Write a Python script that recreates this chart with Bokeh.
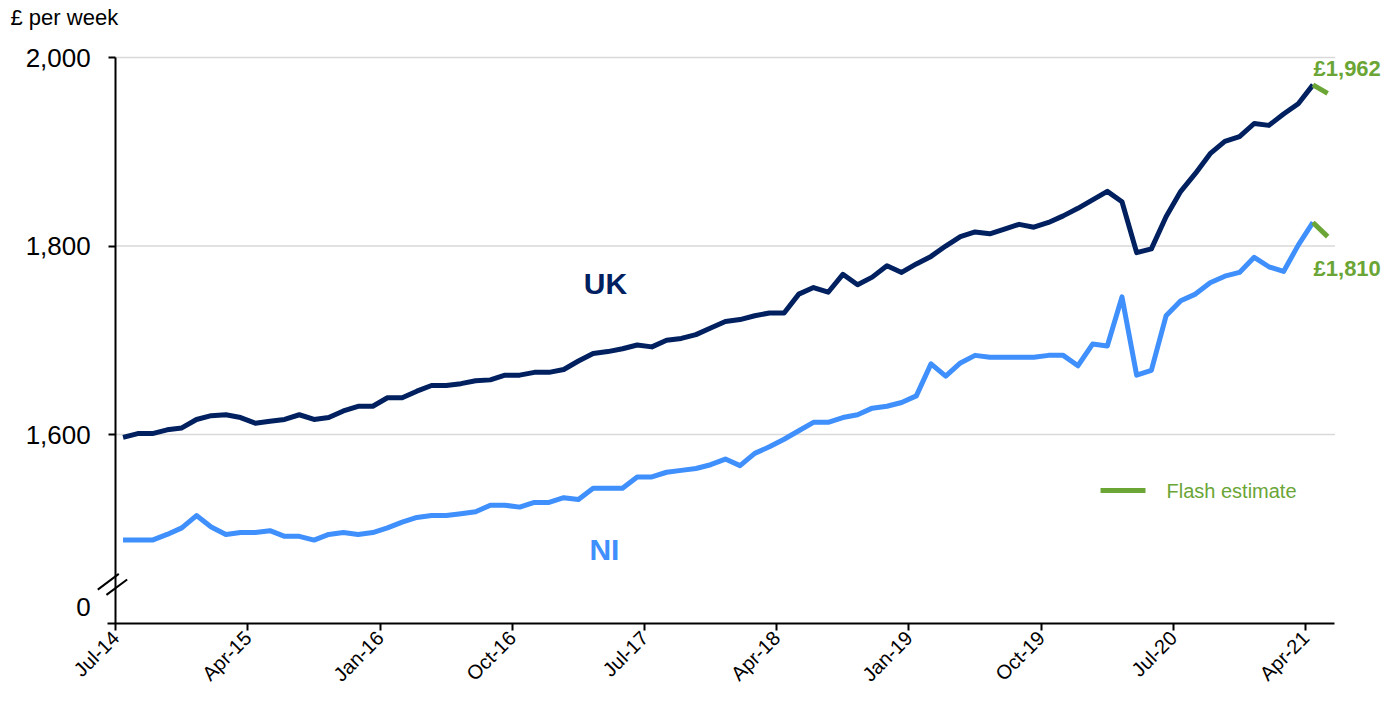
from bokeh.plotting import figure
from bokeh.models import FixedTicker, Label, Arrow, LinearAxis
from bokeh.embed import file_html
from bokeh.resources import INLINE
import math

# ---- data ----
tick_labels = ["Jul-14", "Apr-15", "Jan-16", "Oct-16", "Jul-17",
               "Apr-18", "Jan-19", "Oct-19", "Jul-20", "Apr-21"]
uk = [1597, 1601, 1601, 1605, 1607, 1616, 1620, 1621, 1618, 1612,
      1614, 1616, 1621, 1616, 1618, 1625, 1630, 1630, 1639, 1639,
      1646, 1652, 1652, 1654, 1657, 1658, 1663, 1663, 1666, 1666,
      1669, 1678, 1686, 1688, 1691, 1695, 1693, 1700, 1702, 1706,
      1713, 1720, 1722, 1726, 1729, 1729, 1749, 1756, 1751, 1770,
      1759, 1767, 1779, 1772, 1781, 1789, 1800, 1810, 1815, 1813,
      1818, 1823, 1820, 1825, 1832, 1840, 1849, 1858, 1847, 1793,
      1797, 1831, 1858, 1877, 1898, 1911, 1916, 1930, 1928, 1940,
      1951, 1971]
ni = [1488, 1488, 1488, 1494, 1501, 1514, 1502, 1494, 1496, 1496,
      1498, 1492, 1492, 1488, 1494, 1496, 1494, 1496, 1501, 1507,
      1512, 1514, 1514, 1516, 1518, 1525, 1525, 1523, 1528, 1528,
      1533, 1531, 1543, 1543, 1543, 1555, 1555, 1560, 1562, 1564,
      1568, 1574, 1567, 1580, 1587, 1595, 1604, 1613, 1613, 1618,
      1621, 1628, 1630, 1634, 1641, 1675, 1662, 1676, 1684, 1682,
      1682, 1682, 1682, 1684, 1684, 1673, 1696, 1694, 1746, 1663,
      1668, 1726, 1742, 1749, 1761, 1768, 1772, 1788, 1778, 1773,
      1801, 1825]
uk_flash = [1971, 1962]   # Apr-21 -> May-21 flash estimate
ni_flash = [1825, 1810]
y_ticks = [1600, 1800, 2000]
zero_pos = 1416.8          # where the broken axis shows "0"
y_floor = 1399.5           # bottom of the (broken) value axis

FONT = "Liberation Sans"
NAVY = "#002060"
BLUE = "#3f8ffc"
GREEN = "#6aa536"

n = len(uk)
x = [i + 0.5 for i in range(n)]
x_flash = [n - 0.5, n + 0.5]
n_months = n + 1  # Jul-14 .. May-21

p = figure(width=1384, height=694, x_range=(-7.842, 86.37), y_range=(1324.2, 2060.5),
           output_backend="svg", toolbar_location=None,
           min_border_left=0, min_border_right=0, min_border_top=0,
           min_border_bottom=0)
p.outline_line_color = None
p.background_fill_color = "white"
p.border_fill_color = "white"

# grid lines (drawn only across the data area)
p.xgrid.visible = False
p.ygrid.visible = False
p.segment(x0=[0] * len(y_ticks), y0=y_ticks, x1=[n_months] * len(y_ticks), y1=y_ticks,
          line_color="#d9d9d9", line_width=1.5)

# y axis line + tick marks, drawn at x = 0 (start of Jul-14)
yline = p.yaxis[0]
yline.fixed_location = 0
yline.bounds = (y_floor, 2000)
yline.ticker = FixedTicker(ticks=y_ticks)
yline.major_label_text_font_size = "0px"
yline.major_label_overrides = {t: "" for t in y_ticks}
yline.major_label_standoff = 0
yline.major_tick_in = 0
yline.major_tick_out = 7
yline.minor_tick_line_color = None
yline.axis_line_width = 2
yline.major_tick_line_width = 2

# y tick labels (incl. the broken-axis "0")
ylab = LinearAxis(ticker=FixedTicker(ticks=[zero_pos] + y_ticks), fixed_location=0)
ov = {t: f"{t:,}" for t in y_ticks}
ov[zero_pos] = "0"
ylab.major_label_overrides = ov
ylab.major_label_text_font = FONT
ylab.major_label_text_font_size = "26px"
ylab.major_label_text_color = "black"
ylab.major_label_standoff = 25
ylab.major_tick_in = 0
ylab.major_tick_out = 0
ylab.major_tick_line_color = None
ylab.minor_tick_line_color = None
ylab.axis_line_color = None
p.left = [ylab, yline]

# x axis
xt = [9 * k for k in range(len(tick_labels))]
xa = p.xaxis[0]
xa.fixed_location = y_floor
xa.ticker = FixedTicker(ticks=xt)
xa.bounds = (-0.55, n_months)
xa.major_label_overrides = {t: lab for t, lab in zip(xt, tick_labels)}
xa.major_label_orientation = math.pi / 4
xa.major_label_text_font = FONT
xa.major_label_text_font_size = "20px"
xa.major_label_text_color = "black"
xa.major_label_standoff = 4
xa.major_tick_in = 0
xa.major_tick_out = 7
xa.minor_tick_line_color = None
xa.axis_line_width = 2
xa.major_tick_line_width = 2

# unit label
p.add_layout(Label(x=-7.16, y=2042.4, text="£ per week", text_font=FONT,
                   text_font_size="22px", text_color="black", text_baseline="middle"))

# series
p.line(x, ni, line_color=BLUE, line_width=5, line_join="round")
p.line(x, uk, line_color=NAVY, line_width=5, line_join="round")
p.line(x_flash, ni_flash, line_color=GREEN, line_width=5, line_join="round")
p.line(x_flash, uk_flash, line_color=GREEN, line_width=5, line_join="round")

# legend for flash estimate
p.line([67.04, 70.1], [1540.6, 1540.6], line_color=GREEN, line_width=5)
p.add_layout(Label(x=71.53, y=1540.6, text="Flash estimate", text_font=FONT,
                   text_font_size="20px", text_color=GREEN,
                   text_baseline="middle"))

# series labels
p.add_layout(Label(x=33.34, y=1760, text="UK", text_font=FONT, text_font_size="30px",
                   text_font_style="bold", text_color=NAVY, text_align="center",
                   text_baseline="middle"))
p.add_layout(Label(x=33.27, y=1478, text="NI", text_font=FONT, text_font_size="30px",
                   text_font_style="bold", text_color=BLUE, text_align="center",
                   text_baseline="middle"))
p.add_layout(Label(x=x_flash[1] - 0.96, y=1988, text=f"£{uk_flash[1]:,}", text_font=FONT,
                   text_font_size="22px", text_font_style="bold", text_color=GREEN,
                   text_baseline="middle"))
p.add_layout(Label(x=x_flash[1] - 0.96, y=1776, text=f"£{ni_flash[1]:,}", text_font=FONT,
                   text_font_size="22px", text_font_style="bold", text_color=GREEN,
                   text_baseline="middle"))

# broken-axis marks
for (x0, y0, x1, y1) in [(-1.22, 1435.5, 0.21, 1452.2), (-0.63, 1429.9, 0.78, 1446.2)]:
    p.add_layout(Arrow(end=None, x_start=x0, y_start=y0, x_end=x1, y_end=y1,
                       line_color="black", line_width=2))

open("out.html", "w").write(file_html(p, INLINE))
